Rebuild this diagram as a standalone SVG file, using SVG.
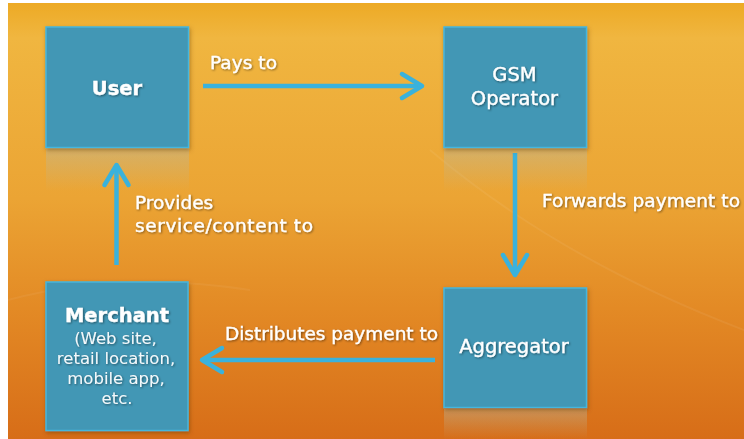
<svg xmlns="http://www.w3.org/2000/svg" width="744" height="439" viewBox="0 0 744 439">
<defs>
<linearGradient id="bg" x1="0" y1="0" x2="0" y2="1">
<stop offset="0" stop-color="#EDAA25"/>
<stop offset="0.08" stop-color="#F0B640"/>
<stop offset="0.45" stop-color="#EBA434"/>
<stop offset="0.7" stop-color="#E38A25"/>
<stop offset="1" stop-color="#D76D18"/>
</linearGradient>
<linearGradient id="refl" x1="0" y1="0" x2="0" y2="1">
<stop offset="0" stop-color="#B8B8A0" stop-opacity="0.45"/>
<stop offset="1" stop-color="#B8B8A0" stop-opacity="0"/>
</linearGradient>
<filter id="tsh" x="-10%" y="-30%" width="120%" height="160%">
<feDropShadow dx="1" dy="1" stdDeviation="0.8" flood-color="#000" flood-opacity="0.45"/>
</filter>
<filter id="bsh" x="-10%" y="-10%" width="125%" height="125%">
<feDropShadow dx="1" dy="2" stdDeviation="2" flood-color="#6a3a00" flood-opacity="0.5"/>
</filter>
<marker id="chev" markerUnits="userSpaceOnUse" markerWidth="40" markerHeight="40" refX="0" refY="0" orient="auto" viewBox="-30 -20 40 40" overflow="visible">
<path d="M-20,-12 L0,0 L-20,12" fill="none" stroke="#3AB2DC" stroke-width="4.5" stroke-linecap="round" stroke-linejoin="round"/>
</marker>
<style>
.box{fill:#4397B5;stroke:#45B6DC;stroke-width:1.5;filter:url(#bsh)}
.refl{fill:url(#refl)}
.t{font-family:"DejaVu Sans",sans-serif;fill:#ffffff;stroke:#ffffff;stroke-width:0.35;filter:url(#tsh)}
.bt{font-size:19.5px;text-anchor:middle}
.lb{font-size:18.5px}
.sub{font-size:16.5px;text-anchor:middle;fill:#f4f8fa;stroke-width:0}
.arr{stroke:#3AB2DC;stroke-width:4.5;fill:none;marker-end:url(#chev)}
</style>
</defs>
<rect x="0" y="0" width="744" height="439" fill="#ffffff"/>
<rect x="8" y="3" width="736" height="436" fill="url(#bg)"/>
<path d="M430,150 Q560,260 744,330" fill="none" stroke="#ffffff" stroke-opacity="0.06" stroke-width="2"/>
<path d="M8,300 Q120,270 250,290" fill="none" stroke="#ffffff" stroke-opacity="0.05" stroke-width="2"/>

<g id="reflections">
<rect class="refl" x="46" y="149" width="143" height="42"/>
<rect class="refl" x="444" y="149" width="143" height="42"/>
<rect class="refl" x="444" y="409" width="143" height="30"/>
</g>

<g id="connectors">
<line class="arr" x1="203" y1="86" x2="422" y2="86"/>
<line class="arr" x1="515" y1="153" x2="515" y2="275"/>
<line class="arr" x1="435" y1="360" x2="202" y2="360"/>
<line class="arr" x1="116.5" y1="265" x2="116.5" y2="165"/>
<text class="t lb" x="210" y="69" textLength="67">Pays to</text>
<text class="t lb" x="542" y="207" textLength="198">Forwards payment to</text>
<text class="t lb" x="225" y="339.5" textLength="213">Distributes payment to</text>
<text class="t lb" x="135" y="208.5">Provides</text>
<text class="t lb" x="135" y="231.5" textLength="178">service/content to</text>
</g>

<g id="user">
<rect class="box" x="46" y="27" width="142.5" height="120.5"/>
<text class="t bt" x="117" y="94.5" font-weight="bold" font-size="18">User</text>
</g>

<g id="gsm">
<rect class="box" x="444" y="27" width="142.5" height="120.5"/>
<text class="t bt" x="514.5" y="81">GSM</text>
<text class="t bt" x="514.5" y="104.5">Operator</text>
</g>

<g id="aggregator">
<rect class="box" x="444" y="288" width="142.5" height="119.5"/>
<text class="t bt" x="514" y="352.5">Aggregator</text>
</g>

<g id="merchant">
<rect class="box" x="46" y="282" width="142" height="148.5"/>
<text class="t bt" x="117" y="321.5" font-weight="bold" font-size="18">Merchant</text>
<text class="t sub" x="115.5" y="343.5">(Web site,</text>
<text class="t sub" x="116" y="363.5">retail location,</text>
<text class="t sub" x="116" y="383.5">mobile  app,</text>
<text class="t sub" x="117" y="404">etc.</text>
</g>
</svg>
